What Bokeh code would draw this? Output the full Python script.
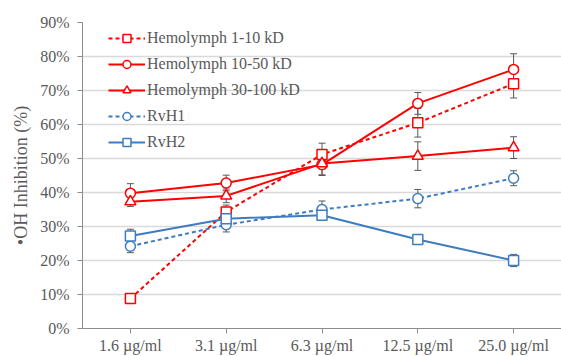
from bokeh.plotting import figure
from bokeh.models import FactorRange, Range1d, NumeralTickFormatter, ColumnDataSource, Whisker, Legend, LegendItem, FixedTicker
from bokeh.embed import file_html
from bokeh.resources import INLINE

categories = ["1.6 µg/ml", "3.1 µg/ml", "6.3 µg/ml", "12.5 µg/ml", "25.0 µg/ml"]

hemo_1_10 = [0.088, 0.343, 0.512, 0.605, 0.720]
hemo_1_10_err = [0.010, 0.020, 0.033, 0.042, 0.042]
hemo_10_50 = [0.398, 0.428, 0.482, 0.662, 0.762]
hemo_10_50_err = [0.028, 0.023, 0.030, 0.032, 0.046]
hemo_30_100 = [0.373, 0.390, 0.485, 0.507, 0.532]
hemo_30_100_err = [0.014, 0.020, 0.035, 0.042, 0.032]
rvh1 = [0.242, 0.305, 0.350, 0.382, 0.442]
rvh1_err = [0.019, 0.021, 0.025, 0.027, 0.022]
rvh2 = [0.272, 0.323, 0.333, 0.262, 0.200]
rvh2_err = [0.020, 0.015, 0.015, 0.008, 0.018]

series = [
    ("Hemolymph 1-10 kD", hemo_1_10, hemo_1_10_err, "#ff0000", "4 3", "square"),
    ("Hemolymph 10-50 kD", hemo_10_50, hemo_10_50_err, "#ff0000", "solid", "circle"),
    ("Hemolymph 30-100 kD", hemo_30_100, hemo_30_100_err, "#ff0000", "solid", "triangle"),
    ("RvH1", rvh1, rvh1_err, "#3e7cbf", "4 3", "circle"),
    ("RvH2", rvh2, rvh2_err, "#3e7cbf", "solid", "square"),
]

FONT = "Liberation Serif"
TXT = "#595959"

p = figure(width=561, height=356, x_range=FactorRange(*categories, range_padding=0),
           y_range=Range1d(0, 0.9), output_backend="svg", toolbar_location=None,
           min_border_left=82, min_border_right=0, min_border_top=22, min_border_bottom=28)
p.x_range.factor_padding = 0
p.outline_line_color = None
p.background_fill_color = "white"

p.yaxis.ticker = FixedTicker(ticks=[i / 10 for i in range(10)])
p.yaxis.formatter = NumeralTickFormatter(format="0%")
p.yaxis.axis_label = "•OH Inhibition (%)"
for ax in (p.xaxis[0], p.yaxis[0]):
    ax.axis_line_color = "#8c8c8c"
    ax.major_tick_line_color = "#8c8c8c"
    ax.minor_tick_line_color = None
    ax.major_tick_out = 5
    ax.major_tick_in = 0
    ax.major_label_text_font = FONT
    ax.major_label_text_font_size = "16px"
    ax.major_label_text_color = TXT
    ax.axis_label_text_font = FONT
    ax.axis_label_text_font_size = "18px"
    ax.axis_label_text_font_style = "normal"
    ax.axis_label_text_color = TXT
p.yaxis.major_label_standoff = 8
p.yaxis.axis_label_standoff = 6
p.xaxis.major_label_standoff = 3
p.xgrid.grid_line_color = None
p.ygrid.grid_line_color = "#d9d9d9"
p.ygrid.grid_line_width = 1.5

items = []
for name, vals, errs, color, dash, marker in series:
    src = ColumnDataSource(dict(x=categories, y=vals,
                                lo=[v - e for v, e in zip(vals, errs)],
                                hi=[v + e for v, e in zip(vals, errs)]))
    w = Whisker(source=src, base="x", lower="lo", upper="hi", line_color="#595959", line_width=1)
    w.upper_head.size = 7
    w.lower_head.size = 7
    w.upper_head.line_color = "#595959"
    w.lower_head.line_color = "#595959"
    p.add_layout(w)
    ln = p.line("x", "y", source=src, line_color=color, line_width=2, line_dash=dash)
    sz = 11 if marker == "triangle" else 10
    mk = p.scatter("x", "y", source=src, marker=marker, size=sz, fill_color="white",
                   line_color=color, line_width=1.5)
    items.append(LegendItem(label=name, renderers=[ln, mk]))

legend = Legend(items=items, location=(26, 176), padding=0, margin=0, spacing=6,
                glyph_width=37, glyph_height=20, label_height=20, label_standoff=2,
                label_text_font=FONT, label_text_font_size="16px", label_text_color=TXT,
                border_line_color=None, background_fill_alpha=0)
p.add_layout(legend)

open("out.html", "w").write(file_html(p, INLINE))
